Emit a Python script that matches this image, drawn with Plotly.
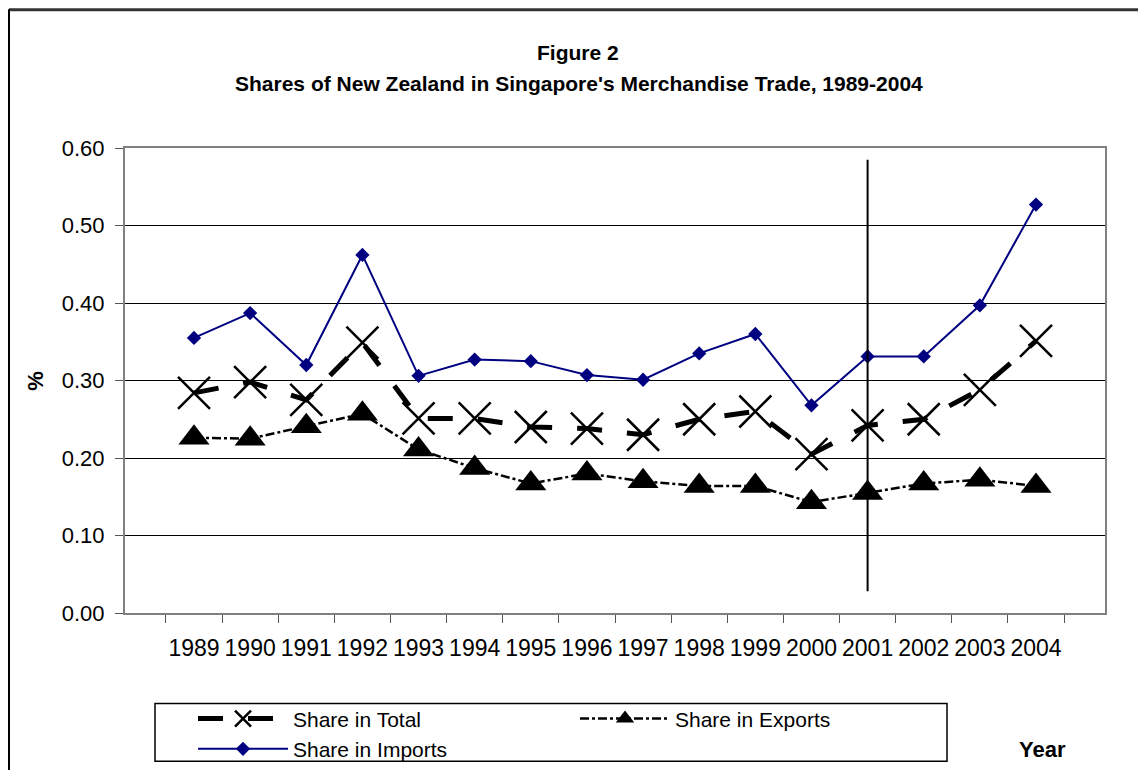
import plotly.graph_objects as go

years = ["1989", "1990", "1991", "1992", "1993", "1994", "1995", "1996",
         "1997", "1998", "1999", "2000", "2001", "2002", "2003", "2004"]
share_total = [0.284, 0.298, 0.275, 0.349, 0.251, 0.251, 0.240, 0.238,
               0.230, 0.250, 0.260, 0.205, 0.242, 0.250, 0.288, 0.351]
share_exports = [0.226, 0.225, 0.241, 0.257, 0.211, 0.187, 0.167, 0.180,
                 0.170, 0.164, 0.164, 0.143, 0.155, 0.167, 0.172, 0.164]
share_imports = [0.355, 0.387, 0.320, 0.462, 0.306, 0.327, 0.325, 0.307,
                 0.301, 0.335, 0.360, 0.268, 0.331, 0.331, 0.397, 0.527]
y_ticks = [0.0, 0.1, 0.2, 0.3, 0.4, 0.5, 0.6]
marker_year = "2001"

# page body has an 8px margin; work in screen coordinates and shift
OFF = 8
W, H = 1146 - 2 * OFF, 778 - 2 * OFF
L, R, T, B = 125 - OFF, 1105 - OFF, 148 - OFF, 613.5 - OFF
FONT = "Arial, Liberation Sans, sans-serif"


def px(x_screen):
    return (x_screen - OFF - L) / (R - L)


def py(y_screen):
    return (B - (y_screen - OFF)) / (B - T)


fig = go.Figure()
fig.add_trace(go.Scatter(
    x=years, y=share_total, name="Share in Total", mode="lines+markers",
    line=dict(color="black", width=5, dash="longdash"),
    marker=dict(symbol="x-thin-open", size=32, line=dict(color="black", width=2.5)),
))
fig.add_trace(go.Scatter(
    x=years, y=share_exports, name="Share in Exports", mode="lines+markers",
    line=dict(color="black", width=2.5, dash="dashdot"),
    marker=dict(symbol="triangle-up", size=27, color="black"),
))
fig.add_trace(go.Scatter(
    x=years, y=share_imports, name="Share in Imports", mode="lines+markers",
    line=dict(color="#000080", width=2),
    marker=dict(symbol="diamond", size=11, color="#000080"),
))

xi = years.index(marker_year)
shapes = [
    dict(type="line", xref="x", yref="y", x0=xi, x1=xi, y0=0.028, y1=0.585,
         line=dict(color="black", width=2)),
    # outer chart frame (top and left edges)
    dict(type="line", xref="paper", yref="paper", x0=px(OFF + 1), x1=px(1146), y0=py(OFF + 1.5),
         y1=py(OFF + 1.5), line=dict(color="#333333", width=3)),
    dict(type="line", xref="paper", yref="paper", x0=px(OFF + 1), x1=px(OFF + 1), y0=py(OFF + 1),
         y1=py(778), line=dict(color="black", width=2)),
    # legend box
    dict(type="rect", xref="paper", yref="paper", x0=px(155), x1=px(947), y0=py(704), y1=py(762),
         line=dict(color="black", width=1.5)),
]


def ann(text, x, y, size, angle=0):
    return dict(text=text, xref="paper", yref="paper", x=px(x), y=py(y), textangle=angle,
                xanchor="center", yanchor="middle", showarrow=False,
                font=dict(family=FONT, size=size, color="black"))


annotations = [
    ann("<b>Figure 2</b>", 578, 52, 21),
    ann("<b>Shares of New Zealand in Singapore's Merchandise Trade, 1989-2004</b>", 579, 83, 21),
    ann("<b>%</b>", 36, 381, 22, -90),
    ann("<b>Year</b>", 1042, 750, 22),
]

fig.update_layout(
    width=W, height=H,
    margin=dict(l=L, r=W - R, t=T, b=H - B, autoexpand=False),
    paper_bgcolor="white", plot_bgcolor="white",
    font=dict(family=FONT, color="black"),
    showlegend=True,
    legend=dict(orientation="h", x=px(193), y=py(699), xanchor="left", yanchor="top",
                xref="paper", yref="paper", bgcolor="rgba(0,0,0,0)",
                entrywidth=277, entrywidthmode="pixels", itemwidth=90,
                font=dict(family=FONT, size=21, color="black")),
    shapes=shapes,
    annotations=annotations,
)
fig.update_xaxes(
    type="category", showgrid=False, ticks="outside", ticklen=8, tickcolor="#555555",
    tickson="boundaries", showline=True, linecolor="#808080", linewidth=2, mirror=True,
    tickangle=0, ticklabelstandoff=13, tickfont=dict(family=FONT, size=23, color="black"),
)
fig.update_yaxes(
    range=[0, 0.6], tickvals=y_ticks, tickformat=".2f", showgrid=True, gridcolor="black",
    gridwidth=1, ticks="outside", ticklen=8, tickcolor="#555555", showline=True,
    linecolor="#808080", linewidth=2, mirror=True, zeroline=False, ticklabelstandoff=6,
    tickfont=dict(family=FONT, size=22, color="black"),
)

fig.write_html("out.html")
